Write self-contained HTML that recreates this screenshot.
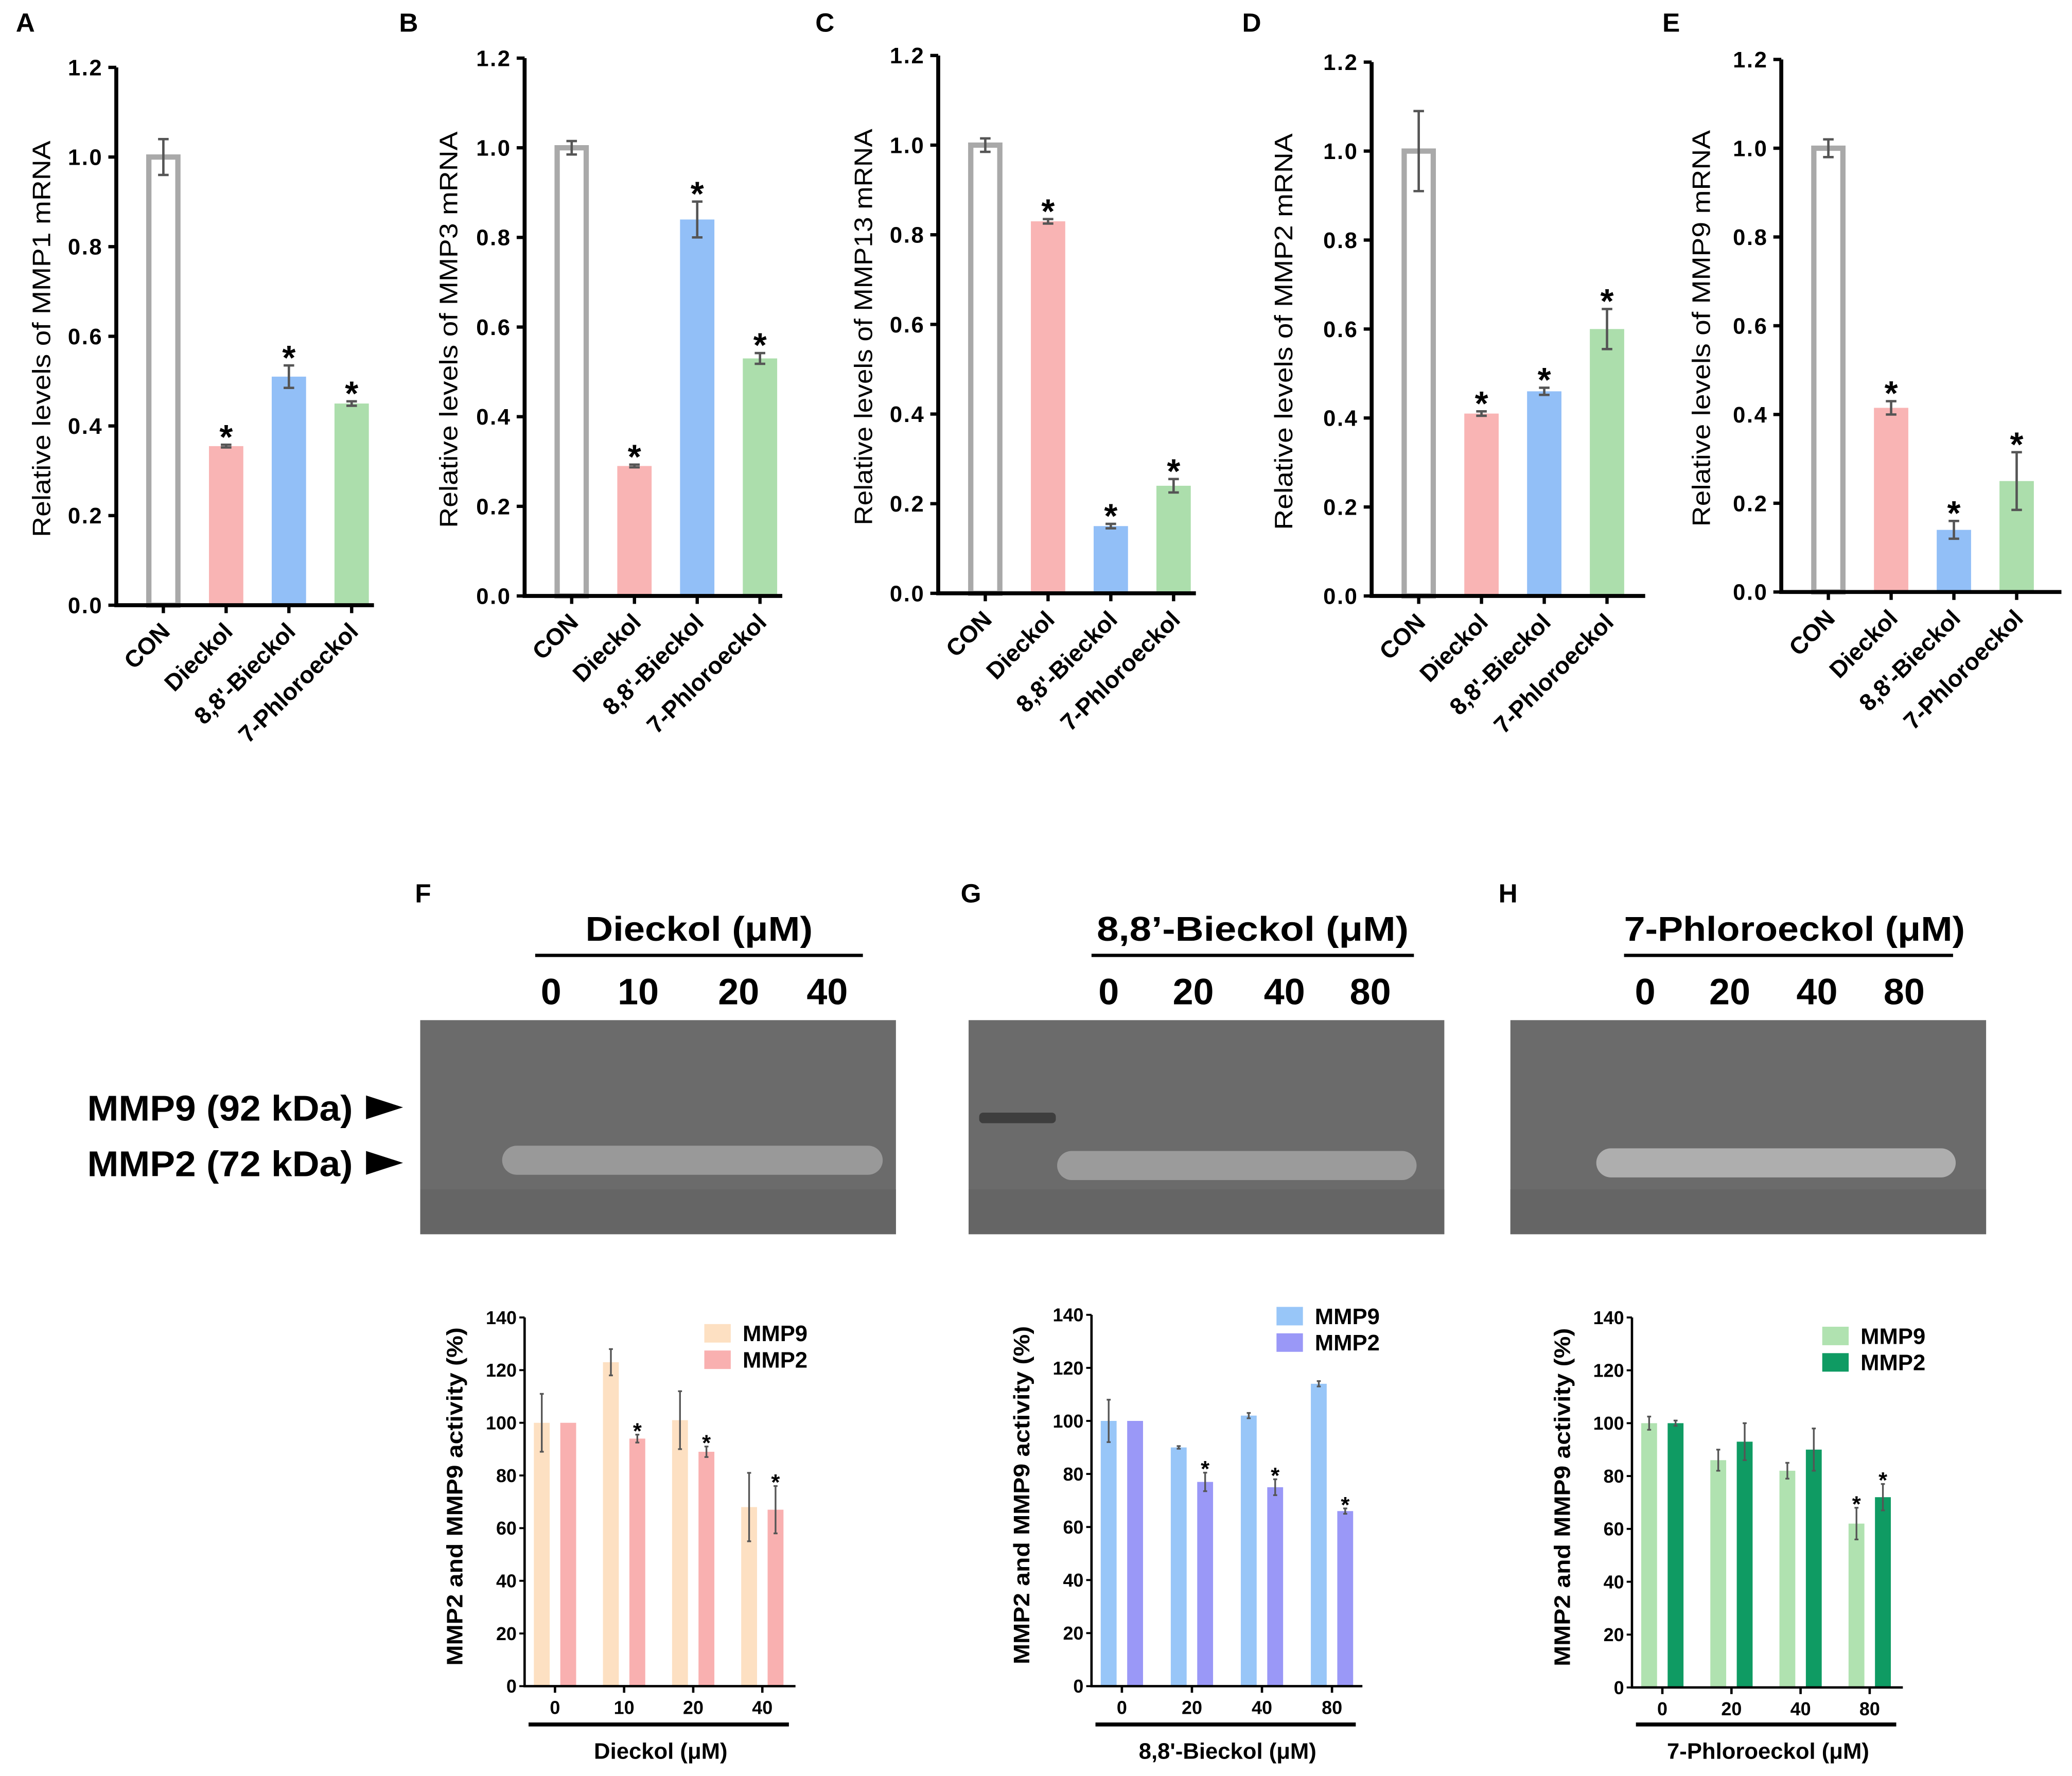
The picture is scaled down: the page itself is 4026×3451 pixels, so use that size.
<!DOCTYPE html>
<html><head><meta charset="utf-8">
<style>
html,body{margin:0;padding:0;background:#fff;}
svg{display:block;}
text{font-family:"Liberation Sans",sans-serif;}
.n{font-family:"Liberation Sans Narrow","Liberation Sans",sans-serif;}
</style></head>
<body>
<svg id="fig" width="4026" height="3451" viewBox="0 0 1568 1344" preserveAspectRatio="none" xmlns="http://www.w3.org/2000/svg">
<rect width="1568" height="1344" fill="#fff"/>
<g id="root"></g>
</svg>
<script>
// ---- Top panel data (relative mRNA) ----
const topCategories = ["CON","Dieckol","8,8'-Bieckol","7-Phloroeckol"];
const mmp1Values = [1.0,0.355,0.51,0.45];
const mmp1Errors = [0.04,0.003,0.025,0.005];
const mmp3Values = [1.0,0.29,0.84,0.53];
const mmp3Errors = [0.015,0.003,0.04,0.012];
const mmp13Values = [1.0,0.83,0.15,0.24];
const mmp13Errors = [0.015,0.005,0.005,0.015];
const mmp2Values = [1.0,0.41,0.46,0.60];
const mmp2Errors = [0.09,0.005,0.008,0.045];
const mmp9Values = [1.0,0.415,0.14,0.25];
const mmp9Errors = [0.02,0.015,0.02,0.065];
const topTicks = ["0.0","0.2","0.4","0.6","0.8","1.0","1.2"];
const topStars = [false,true,true,true];
// ---- Bottom panel data (zymography activity %) ----
const dieckolDoses = ["0","10","20","40"];
const dieckolMMP9 = [100,123,101,68];
const dieckolMMP9Err = [11,5,11,13];
const dieckolMMP2 = [100,94,89,67];
const dieckolMMP2Err = [0,1.5,2,9];
const dieckolStar9 = [false,false,false,false];
const dieckolStar2 = [false,true,true,true];
const bieckolDoses = ["0","20","40","80"];
const bieckolMMP9 = [100,90,102,114];
const bieckolMMP9Err = [8,0.5,1,1];
const bieckolMMP2 = [100,77,75,66];
const bieckolMMP2Err = [0,3.5,3,1];
const bieckolStar9 = [false,false,false,false];
const bieckolStar2 = [false,true,true,true];
const phloroDoses = ["0","20","40","80"];
const phloroMMP9 = [100,86,82,62];
const phloroMMP9Err = [2.5,4,3,6];
const phloroMMP2 = [100,93,90,72];
const phloroMMP2Err = [1,7,8,5];
const phloroStar9 = [false,false,false,true];
const phloroStar2 = [false,false,false,true];
const bottomTicks = ["0","20","40","60","80","100","120","140"];

const NS="http://www.w3.org/2000/svg";
const root=document.getElementById('root');
function mk(tag,attrs,parent,txt){const e=document.createElementNS(NS,tag);for(const k in attrs)e.setAttribute(k,attrs[k]);if(txt!==undefined)e.textContent=txt;(parent||root).appendChild(e);return e;}

const barColors=["none","#f9b4b4","#92bff7","#acdeac"];

function topChart(o){
  const g=mk('g',{});
  
  
  const yS=v=>o.y0-(v/1.2)*(o.y0-o.y12);
  const lab=mk('text',{x:o.lx,y:24,'font-size':20,'font-weight':'bold'},g,o.letter);
  
  
  o.vals.forEach((v,i)=>{
    const cx=o.x0+o.dx*(i+0.75);
    const y=yS(v);
    let b;
    if(i===0){b=mk('rect',{x:cx-11,y:y,width:22,height:o.y0-y,fill:'#fff',stroke:'#a9a9a9','stroke-width':4},g);}
    else b=mk('rect',{x:cx-13,y:y,width:26,height:o.y0-y,fill:barColors[i]},g);
    
    
    const e=o.errs[i];
    const eb=mk('path',{d:`M${cx} ${yS(v+e)}V${yS(v-e)}M${cx-4} ${yS(v+e)}H${cx+4}M${cx-4} ${yS(v-e)}H${cx+4}`,stroke:'#555','stroke-width':1.8,fill:'none'},g);
    
    
    if(topStars[i]){const s=mk('text',{x:cx,y:yS(v+e)+3,'text-anchor':'middle','font-size':26,'font-weight':'bold'},g,'*');
      
      }
    mk('line',{x1:cx,x2:cx,y1:o.y0,y2:o.y0+6,stroke:'#000','stroke-width':2.5},g);
    const t=mk('text',{x:0,y:0,'text-anchor':'end','font-size':18,'font-weight':'bold',transform:`translate(${cx+6},${o.y0+21}) rotate(-45)`},g,topCategories[i]);
    
    
  });
  const ax=mk('path',{d:`M${o.x0} ${o.y12}V${o.y0}H${o.xe}`,stroke:'#000','stroke-width':3,fill:'none'},g);
  
  
  topTicks.forEach(tk=>{
    const y=yS(parseFloat(tk));
    mk('line',{x1:o.x0-6,x2:o.x0,y1:y,y2:y,stroke:'#000','stroke-width':2.5},g);
    const t=mk('text',{x:o.x0-10,y:y+6,'text-anchor':'end','font-size':17,'font-weight':'bold','letter-spacing':1},g,tk);
    
    
  });
  const yt=mk('text',{x:0,y:0,'text-anchor':'middle','font-size':19,textLength:300,lengthAdjust:'spacingAndGlyphs',transform:`translate(${o.tx},${(o.y0+o.y12)/2+2}) rotate(-90)`},g,o.title);
  
  
}
topChart({name:'chart-mmp1',letter:'A',lx:12,x0:88,y0:458,y12:51,dx:47.5,xe:283,tx:38,vals:mmp1Values,errs:mmp1Errors,title:'Relative levels of MMP1 mRNA'});
topChart({name:'chart-mmp3',letter:'B',lx:302,x0:397,y0:451,y12:44,dx:47.5,xe:592,tx:346,vals:mmp3Values,errs:mmp3Errors,title:'Relative levels of MMP3 mRNA'});
topChart({name:'chart-mmp13',letter:'C',lx:617,x0:710,y0:449,y12:42,dx:47.5,xe:905,tx:660,vals:mmp13Values,errs:mmp13Errors,title:'Relative levels of MMP13 mRNA'});
topChart({name:'chart-mmp2',letter:'D',lx:940,x0:1038,y0:451,y12:47,dx:47.5,xe:1245,tx:978,vals:mmp2Values,errs:mmp2Errors,title:'Relative levels of MMP2  mRNA'});
topChart({name:'chart-mmp9',letter:'E',lx:1258,x0:1348,y0:448,y12:45,dx:47.5,xe:1560,tx:1294,vals:mmp9Values,errs:mmp9Errors,title:'Relative levels of MMP9  mRNA'});

function gel(o){
  const g=mk('g',{});
  
  
  const l=mk('text',{x:o.lx,y:683,'font-size':20,'font-weight':'bold'},g,o.letter);
  
  
  const h=mk('text',{x:o.hc,y:712,'text-anchor':'middle','font-size':26,'font-weight':'bold',textLength:o.hl,lengthAdjust:'spacingAndGlyphs'},g,o.head);
  
  
  mk('line',{x1:o.u1,x2:o.u2,y1:723,y2:723,stroke:'#000','stroke-width':2.5},g);
  o.doses.forEach((d,i)=>{const t=mk('text',{'class':'n',x:o.nx[i],y:760,'text-anchor':'middle','font-size':28,'font-weight':'bold'},g,d);
    
    });
  const r=mk('rect',{x:o.gx,y:772,width:360,height:162,fill:'#6b6b6b'},g);
  
  
  mk('rect',{x:o.gx,y:900,width:360,height:34,fill:'#656565'},g);
  mk('rect',{x:o.b1,y:o.by,width:o.b2-o.b1,height:22,rx:11,fill:o.bc,opacity:0.95},g);
  if(o.smudge)mk('rect',{x:o.gx+8,y:842,width:58,height:8,rx:3,fill:'#3e3e3e'},g);
}
gel({name:'gel-dieckol',letter:'F',lx:314,hc:529,hl:172,head:'Dieckol (μM)',u1:405,u2:653,doses:['0','10','20','40'],nx:[417,483,559,626],gx:318,b1:380,b2:668,by:867,bc:'#9c9c9c'});
gel({name:'gel-bieckol',letter:'G',lx:727,hc:948,hl:236,head:'8,8’-Bieckol  (μM)',u1:826,u2:1070,doses:['0','20','40','80'],nx:[839,903,972,1037],gx:733,b1:800,b2:1072,by:871,bc:'#9e9e9e',smudge:true});
gel({name:'gel-phloroeckol',letter:'H',lx:1134,hc:1358,hl:258,head:'7-Phloroeckol (μM)',u1:1229,u2:1478,doses:['0','20','40','80'],nx:[1245,1309,1375,1441],gx:1143,b1:1208,b2:1480,by:869,bc:'#b2b2b2'});
[['MMP9 (92 kDa)',848],['MMP2 (72 kDa)',890]].forEach(([t,y])=>{
  const e=mk('text',{x:66,y:y,'font-size':27,'font-weight':'bold',textLength:201,lengthAdjust:'spacingAndGlyphs'},root,t);
  
  
  const a=mk('polygon',{points:`277,${y-19} 305,${y-10} 277,${y-1}`,fill:'#000'});
  
  
});

function botChart(o){
  const g=mk('g',{});
  
  
  const yS=v=>o.y0-(v/140)*(o.y0-o.y140);
  o.doses.forEach((d,i)=>{
    const cx=o.x0+23+o.dx*i;
    [[o.m9,o.e9,o.s9,o.c9,-10,'mmp9'],[o.m2,o.e2,o.s2,o.c2,10,'mmp2']].forEach(([vals,errs,stars,col,off,nm])=>{
      const v=vals[i],e=errs[i],bx=cx+off;
      const b=mk('rect',{x:bx-6,y:yS(v),width:12,height:o.y0-yS(v),fill:col},g);
      
      
      if(e>0){const eb=mk('path',{d:`M${bx} ${yS(v+e)}V${yS(v-e)}M${bx-1.5} ${yS(v+e)}H${bx+1.5}M${bx-1.5} ${yS(v-e)}H${bx+1.5}`,stroke:'#555','stroke-width':1.3,fill:'none'},g);
        
        }
      if(stars[i]){const s=mk('text',{x:bx,y:yS(v+e)+3,'text-anchor':'middle','font-size':17,'font-weight':'bold'},g,'*');
        
        }
    });
    mk('line',{x1:cx,x2:cx,y1:o.y0,y2:o.y0+5,stroke:'#000','stroke-width':1.8},g);
    const t=mk('text',{'class':'n',x:cx,y:o.y0+21,'text-anchor':'middle','font-size':14,'font-weight':'bold'},g,d);
    
    
  });
  const ax=mk('path',{d:`M${o.x0} ${o.y140}V${o.y0}H${o.x0+205}`,stroke:'#000','stroke-width':1.8,fill:'none'},g);
  
  
  bottomTicks.forEach(tk=>{const y=yS(+tk);
    mk('line',{x1:o.x0-4,x2:o.x0,y1:y,y2:y,stroke:'#000','stroke-width':1.5},g);
    const t=mk('text',{'class':'n',x:o.x0-6,y:y+5,'text-anchor':'end','font-size':14,'font-weight':'bold'},g,tk);
    
    });
  const yt=mk('text',{x:0,y:0,'text-anchor':'middle','font-size':17,'font-weight':'bold',textLength:256,lengthAdjust:'spacingAndGlyphs',transform:`translate(${o.x0-47},${(o.y0+o.y140)/2-4}) rotate(-90)`},g,'MMP2 and MMP9 activity (%)');
  
  
  mk('line',{x1:o.x0+3,x2:o.x0+200,y1:1305,y2:1305,stroke:'#000','stroke-width':3},g);
  const xt=mk('text',{'class':'n',x:o.x0+103,y:1331,'text-anchor':'middle','font-size':17,'font-weight':'bold'},g,o.xtitle);
  
  
  [['MMP9',o.c9,0],['MMP2',o.c2,20]].forEach(([n,c,dy])=>{
    const r=mk('rect',{x:o.lgx,y:o.lgy+dy,width:20,height:14,fill:c},g);
    
    
    const t=mk('text',{'class':'n',x:o.lgx+29,y:o.lgy+dy+13,'font-size':17,'font-weight':'bold'},g,n);
    
    
  });
}
botChart({name:'chart-dieckol-activity',x0:397,y0:1276,y140:997,dx:52.3,doses:dieckolDoses,m9:dieckolMMP9,e9:dieckolMMP9Err,s9:dieckolStar9,m2:dieckolMMP2,e2:dieckolMMP2Err,s2:dieckolStar2,c9:'#fde0c2',c2:'#f9b0b0',xtitle:'Dieckol (μM)',lgx:533,lgy:1002});
botChart({name:'chart-bieckol-activity',x0:826,y0:1276,y140:995,dx:53,doses:bieckolDoses,m9:bieckolMMP9,e9:bieckolMMP9Err,s9:bieckolStar9,m2:bieckolMMP2,e2:bieckolMMP2Err,s2:bieckolStar2,c9:'#98c6f8',c2:'#9a98f7',xtitle:"8,8'-Bieckol (μM)",lgx:966,lgy:989});
botChart({name:'chart-phloroeckol-activity',x0:1235,y0:1277,y140:997,dx:52.3,doses:phloroDoses,m9:phloroMMP9,e9:phloroMMP9Err,s9:phloroStar9,m2:phloroMMP2,e2:phloroMMP2Err,s2:phloroStar2,c9:'#b0e2b0',c2:'#0f9b63',xtitle:'7-Phloroeckol (μM)',lgx:1379,lgy:1004});
</script>
</body></html>
